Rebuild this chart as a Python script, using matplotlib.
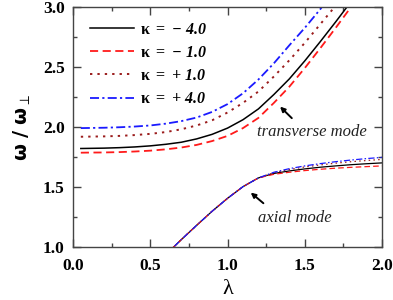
import matplotlib
matplotlib.use("Agg")
import matplotlib.pyplot as plt
from matplotlib.ticker import MultipleLocator

plt.rcParams['font.family'] = ['Liberation Serif', 'DejaVu Serif']
plt.rcParams['mathtext.fontset'] = 'custom'
plt.rcParams['mathtext.rm'] = 'Liberation Serif:italic:bold'
plt.rcParams['mathtext.it'] = 'Liberation Serif:italic:bold'
plt.rcParams['mathtext.bf'] = 'Liberation Serif:bold'

# ---- data ----
lam_t = [0.05, 0.1, 0.2, 0.3, 0.4, 0.5, 0.6, 0.7, 0.8, 0.9, 1.0,
         1.1, 1.2, 1.3, 1.4, 1.5, 1.6, 1.7, 1.8]
trans_m4 = [1.820, 1.821, 1.823, 1.827, 1.833, 1.842, 1.855, 1.872, 1.900, 1.938, 1.990,
            2.060, 2.150, 2.270, 2.400, 2.550, 2.710, 2.875, 3.045]
trans_m1 = [1.785, 1.786, 1.787, 1.790, 1.795, 1.802, 1.813, 1.828, 1.850, 1.882, 1.925,
            1.990, 2.075, 2.200, 2.335, 2.490, 2.655, 2.825, 3.000]
trans_p1 = [1.918, 1.919, 1.921, 1.925, 1.932, 1.942, 1.957, 1.980, 2.012, 2.055, 2.120,
            2.200, 2.295, 2.420, 2.555, 2.700, 2.855, 3.010, 3.170]
trans_p4 = [1.990, 1.991, 1.993, 1.997, 2.003, 2.012, 2.027, 2.048, 2.078, 2.125, 2.190,
            2.280, 2.395, 2.530, 2.680, 2.825, 2.980, 3.160, 3.320]

lam_a = [0.6, 0.7, 0.8, 0.9, 1.0, 1.1, 1.2, 1.3, 1.4, 1.5, 1.6, 1.7, 1.8, 1.9, 2.0]
axial_m4 = [0.935, 1.060, 1.180, 1.297, 1.405, 1.502, 1.575,
            1.612, 1.633, 1.650, 1.664, 1.675, 1.685, 1.693, 1.700]
axial_m1 = [0.935, 1.060, 1.180, 1.297, 1.405, 1.502, 1.575,
            1.605, 1.622, 1.636, 1.647, 1.656, 1.663, 1.669, 1.675]
axial_p1 = [0.935, 1.060, 1.180, 1.297, 1.405, 1.502, 1.575,
            1.618, 1.645, 1.666, 1.683, 1.698, 1.710, 1.720, 1.729]
axial_p4 = [0.935, 1.060, 1.180, 1.297, 1.405, 1.502, 1.575,
            1.622, 1.652, 1.675, 1.694, 1.710, 1.724, 1.736, 1.746]

labels = [r'$\mathbf{\kappa\ =}\ \mathrm{-\ 4.0}$',
          r'$\mathbf{\kappa\ =}\ \mathrm{-\ 1.0}$',
          r'$\mathbf{\kappa\ =}\ \mathrm{+\ 1.0}$',
          r'$\mathbf{\kappa\ =}\ \mathrm{+\ 4.0}$']

fig = plt.figure(figsize=(3.93, 3.0), dpi=100)
ax = fig.add_axes([0.186, 0.177, 0.786, 0.80])

styles = [dict(color='black', ls='-', lw=1.1),
          dict(color='#ff1a1a', ls=(0, (4.5, 2.5)), lw=1.3),
          dict(color='#9b1c1c', ls=(0, (1.2, 2.6)), lw=1.4),
          dict(color='#1a1aff', ls=(0, (5, 1.8, 1.2, 1.8)), lw=1.3)]

trans = [trans_m4, trans_m1, trans_p1, trans_p4]
axial = [axial_m4, axial_m1, axial_p1, axial_p4]
for t, a, st, lb in zip(trans, axial, styles, labels):
    ax.plot(lam_t, t, label=lb, **st)
    ax.plot(lam_a, a, **dict(st, lw=0.9))

ax.set_xlim(0, 2.0)
ax.set_ylim(1.0, 3.0)
ax.xaxis.set_major_locator(MultipleLocator(0.5))
ax.xaxis.set_minor_locator(MultipleLocator(0.25))
ax.yaxis.set_major_locator(MultipleLocator(0.5))
ax.yaxis.set_minor_locator(MultipleLocator(0.25))
ax.tick_params(which='both', direction='in', top=True, right=True,
               color='#444444', width=1.0, labelsize=12.5)
ax.tick_params(which='major', length=6, pad=6)
ax.tick_params(axis='x', which='major', pad=8)
ax.tick_params(which='minor', length=3)
ax.xaxis.set_major_formatter(matplotlib.ticker.FormatStrFormatter('%.1f'))
ax.yaxis.set_major_formatter(matplotlib.ticker.FormatStrFormatter('%.1f'))
for s in ax.spines.values():
    s.set_color('#444444')
    s.set_linewidth(1.0)
fig.canvas.draw()
for lbl in ax.get_xticklabels() + ax.get_yticklabels():
    lbl.set_fontweight('bold')

ax.set_xlabel('λ', family='Liberation Serif', fontsize=16, labelpad=4)
ax.set_ylabel(r'$\mathbf{\omega}\ \mathbf{/}\ \mathbf{\omega}_{\perp}$', fontsize=14,
              math_fontfamily='dejavusans', labelpad=7)

leg = ax.legend(loc='upper left', frameon=False, fontsize=11.5,
                handlelength=2.7, handletextpad=0.4, labelspacing=0.45,
                bbox_to_anchor=(0.02, 0.985), borderaxespad=0.3)

ax.annotate('', xy=(1.34, 2.169), xytext=(1.416, 2.073),
            arrowprops=dict(arrowstyle='-|>', color='black', lw=1.4,
                            mutation_scale=7, shrinkA=0, shrinkB=0))
ax.annotate('', xy=(1.150, 1.4525), xytext=(1.232, 1.364),
            arrowprops=dict(arrowstyle='-|>', color='black', lw=1.4,
                            mutation_scale=7, shrinkA=0, shrinkB=0))
ax.text(1.19, 1.958, 'transverse mode', family='Liberation Serif',
        style='italic', fontsize=12, va='center', ha='left', color='#222222')
ax.text(1.197, 1.242, 'axial mode', family='Liberation Serif',
        style='italic', fontsize=12, va='center', ha='left', color='#222222')

fig.savefig('out.png', dpi=100)
